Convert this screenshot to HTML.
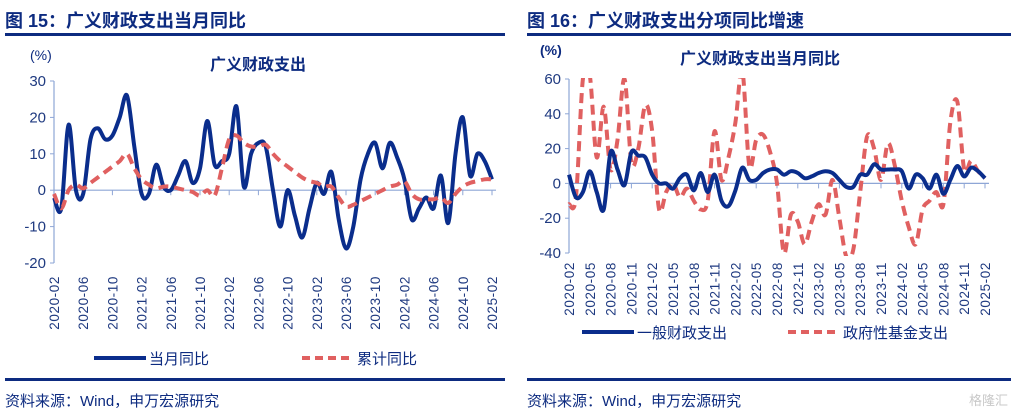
<!DOCTYPE html>
<html><head><meta charset="utf-8">
<style>
html,body{margin:0;padding:0;background:#fff;}
body{width:1013px;height:416px;overflow:hidden;position:relative;font-family:"Liberation Sans","Noto Sans CJK SC",sans-serif;}
.t{position:absolute;font-weight:bold;font-size:18px;color:#0d2b80;top:7px;letter-spacing:0px}
.rule{position:absolute;height:3px;background:#0d2b80}
.src{position:absolute;top:390px;font-size:15px;color:#0d2b80}
</style></head><body>
<div class="t" style="left:5px">图 15：广义财政支出当月同比</div>
<div class="t" style="left:527px">图 16：广义财政支出分项同比增速</div>
<div class="rule" style="left:5px;width:500px;top:33px"></div>
<div class="rule" style="left:527px;width:484px;top:33px"></div>
<div class="rule" style="left:5px;width:500px;top:378px"></div>
<div class="rule" style="left:527px;width:484px;top:378px"></div>
<div class="src" style="left:5px">资料来源：Wind，申万宏源研究</div>
<div class="src" style="left:527px">资料来源：Wind，申万宏源研究</div>
<svg id="c" width="1013" height="416" style="position:absolute;left:0;top:0"></svg>
<script>
const leftTicks=[-20,-10,0,10,20,30];
const leftMonthly=[-2,-5,18,0,-1,14,17,14,15,20,26,12,-1,-1,7,1,0,4,8,2,6,19,7,8,10,23,1,10,13,12,0,-10,0,-7,-13,-5,2,-1,5,-8,-16,-10,3,10,13,6,13,9,3,-8,-5,-2,-5,4,-9,10,20,4,10,8,3];
const leftCumulative=[-1,-5,0,1.5,0.5,2,3.5,5,6.5,8,10,6,3,1.5,0.5,1,1,0.5,0,-0.5,-1.5,0,-1.5,6,14,15,13,12,12,12.5,10,8,6.5,5,3.5,2.5,2,1,1,-2,-4.5,-4,-3,-2,-1,0,1,1.5,2.5,-1,-2.5,-2.5,-2.5,-2,-3.5,-1,1,2,2.5,3,3];
const rightTicks=[-40,-20,0,20,40,60];
const rightGeneral=[5,-8,-5,7,-5,-15,18,8,-1,18,16,15,5,0,0,-3,3,5,-4,6,-5,5,-10,-13,-4,9,2,2,6,8,8,5,7,6,3,4,6,7,6,2,-2,-2,5,5,11,8,8,8,7,-3,5,3,-3,5,-6,2,10,4,9,7,3];
const rightFund=[-12,-8,60,62,15,44,8,25,60,12,20,45,30,-15,-5,0,-8,-3,-10,-15,-10,30,2,15,35,65,10,25,28,18,0,-40,-18,-22,-35,-22,-12,-18,2,-20,-42,-38,-5,27,20,2,23,10,-10,-25,-35,-15,-10,-5,-12,35,47,8,13,7,3];
function monthLabel(i){const m=1+i;const y=2020+Math.floor(m/12);const mm=m%12+1;return y+'-'+(mm<10?'0':'')+mm;}
const svg=document.getElementById('c');const NS='http://www.w3.org/2000/svg';
function el(t,a,p){const e=document.createElementNS(NS,t);for(const k in a)e.setAttribute(k,a[k]);(p||svg).appendChild(e);return e;}
function smooth(pts){let d='M'+pts[0][0]+','+pts[0][1];for(let i=0;i<pts.length-1;i++){const p0=pts[i-1]||pts[i],p1=pts[i],p2=pts[i+1],p3=pts[i+2]||p2;const c1=[p1[0]+(p2[0]-p0[0])/6,p1[1]+(p2[1]-p0[1])/6],c2=[p2[0]-(p3[0]-p1[0])/6,p2[1]-(p3[1]-p1[1])/6];d+=' C'+c1[0].toFixed(1)+','+c1[1].toFixed(1)+' '+c2[0].toFixed(1)+','+c2[1].toFixed(1)+' '+p2[0].toFixed(1)+','+p2[1].toFixed(1);}return d;}
function chart(o){
 const n=o.series[0].length;
 const x=i=>o.x0+(o.x1-o.x0)*i/(n-1);
 const y=v=>o.yTop+(o.ymax-v)/(o.ymax-o.ymin)*(o.yBot-o.yTop);
 const ax='#8ea6d6';
 let e=el('line',{x1:o.x0,x2:o.x0,y1:o.yTop,y2:o.yBot,stroke:ax,'stroke-width':1.2});
 
 o.ticks.forEach(t=>{el('line',{x1:o.x0-4,x2:o.x0,y1:y(t),y2:y(t),stroke:ax});
  const tx=el('text',{x:o.x0-8,y:y(t)+5,'text-anchor':'end','font-size':15,fill:'#1f3a80'});tx.textContent=t;
  });
 const y0=y(0);
 e=el('line',{x1:o.x0,x2:o.x1+4,y1:y0,y2:y0,stroke:ax,'stroke-width':1.2});
 
 for(let i=0;i<n;i+=o.step){el('line',{x1:x(i),x2:x(i),y1:y0,y2:y0+5,stroke:ax});
  const tx=el('text',{x:0,y:0,transform:'translate('+(x(i)+5)+','+o.labY+') rotate(-90)','text-anchor':'end','font-size':13.5,fill:'#1f3a80','letter-spacing':'0.6'});tx.textContent=monthLabel(i);
  }
 const cp=el('clipPath',{id:o.id+'clip'});el('rect',{x:o.x0-5,y:o.yTop-1,width:o.x1-o.x0+12,height:o.yBot-o.yTop+4},cp);
 o.series.forEach((s,k)=>{const p=el('path',{d:smooth(s.map((v,i)=>[x(i),y(v)])),fill:'none',stroke:o.colors[k],'stroke-width':4,'stroke-dasharray':o.dash[k],'clip-path':'url(#'+o.id+'clip)','stroke-linejoin':'round'});
  });
}
const BLUE='#0a2d8c',RED='#e06060';
// draw red first then blue? Left: blue under red mostly appears blue on top; use order
chart({id:'left',x0:54,x1:492,yTop:81,yBot:263,ymin:-20,ymax:30,ticks:leftTicks,step:4,labY:276,series:[leftMonthly,leftCumulative],colors:[BLUE,RED],dash:['none','10 6'],names:['monthly','cumulative']});
chart({id:'right',x0:569,x1:985,yTop:79,yBot:253,ymin:-40,ymax:60,ticks:rightTicks,step:3,labY:262,series:[rightFund,rightGeneral],colors:[RED,BLUE],dash:['10 6','none'],names:['fund','general']});
function txt(x,y,s,sz,w,name,anchor){const t=el('text',{x:x,y:y,'font-size':sz,'font-weight':w,fill:'#0d2b80','text-anchor':anchor||'start'});t.textContent=s;}
txt(258,70,'广义财政支出',16,'bold','left-chart-title','middle');
txt(760,64,'广义财政支出当月同比',16,'bold','right-chart-title','middle');
txt(30,60,'(%)',14,'normal','left-unit-label');
txt(540,55,'(%)',14,'bold','right-unit-label');
function leg(x,y,c,d,s,name){const l=el('line',{x1:x,x2:x+52,y1:y,y2:y,stroke:c,'stroke-width':4,'stroke-dasharray':d});txt(x+55,y+6,s,15,'normal',name);}
leg(94,358,BLUE,'none','当月同比','legend-monthly');
leg(302,358,RED,'8 5','累计同比','legend-cumulative');
leg(582,332,BLUE,'none','一般财政支出','legend-general');
leg(788,332,RED,'8 5','政府性基金支出','legend-fund');
const wm=el('text',{x:1008,y:405,'font-size':13,fill:'#c8c8c8','text-anchor':'end'});wm.textContent='格隆汇';

</script>
</body></html>
